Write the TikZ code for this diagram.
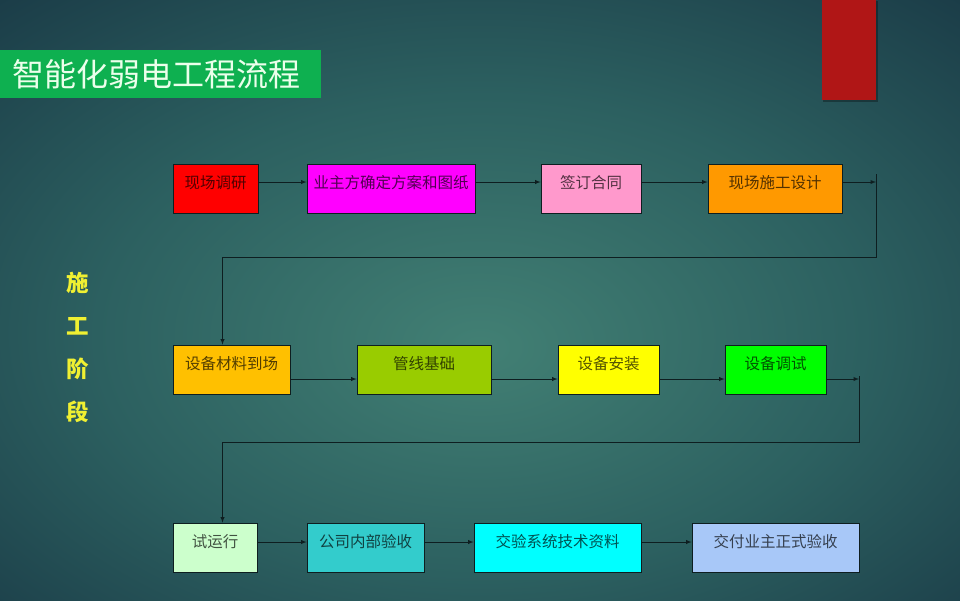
\documentclass[tikz,border=0pt]{standalone}
\usepackage{fontspec}
\setmainfont{Noto Sans CJK SC}
\usepackage{tikz}
\usetikzlibrary{arrows,positioning}

\definecolor{bgin}{RGB}{66,128,116}
\definecolor{bgmid}{RGB}{44,96,96}
\definecolor{bgout}{RGB}{20,46,62}
\definecolor{titlegreen}{RGB}{14,176,80}
\definecolor{barred}{RGB}{176,22,22}
\definecolor{sidetext}{RGB}{240,240,50}
\definecolor{wire}{RGB}{14,30,32}
\pgfdeclareradialshading{slidebg}{\pgfpoint{0bp}{-4bp}}{color(0bp)=(bgin); color(20bp)=(bgmid); color(44bp)=(bgout); color(75bp)=(bgout)}

\tikzset{
	stepbox/.style={draw=wire, line width=0.8pt, inner sep=0pt, minimum height=49pt,
		text height=11pt, text depth=11pt, text opacity=0.68,
		font=\fontsize{15.5}{18}\selectfont},
	wireline/.style={draw=wire, line width=0.9pt},
}

\begin{document}
\begin{tikzpicture}[x=1pt, y=-1pt]
		\useasboundingbox (0,0) rectangle (960,600);
		\fill [shading=slidebg] (0,0) rectangle (960,600);
		
		% title and bar
		\node [fill=titlegreen, anchor=north west, text width=297pt, inner xsep=12pt, minimum height=48pt, align=left, text=green!8!white, font=\fontsize{32}{34}\selectfont] (title) at (0,50) {智能化弱电工程流程};
		\fill [black, opacity=0.3] (823,1) rectangle (878,102);
		\fill [barred] (822,0) rectangle (876,100);
		
		\node [text=sidetext, align=center, font=\fontsize{22.5}{43}\selectfont\bfseries] (stage) at (78,347) {施\\工\\阶\\段};
		
		% row 1
		\node [stepbox, fill={rgb,255:red,255;green,0;blue,0}, minimum width=85pt] (survey) at (215.5,188.5) {现场调研};
		\node [stepbox, fill={rgb,255:red,255;green,0;blue,255}, minimum width=168pt] (plan) at (391,188.5) {业主方确定方案和图纸};
		\node [stepbox, fill={rgb,255:red,255;green,153;blue,204}, minimum width=100pt] (contract) at (591,188.5) {签订合同};
		\node [stepbox, fill={rgb,255:red,255;green,153;blue,0}, minimum width=134pt] (design) at (775,188.5) {现场施工设计};
		
		% row 2
		\node [stepbox, fill={rgb,255:red,255;green,192;blue,0}, minimum width=117pt] (arrive) at (231.5,369.5) {设备材料到场};
		\node [stepbox, fill={rgb,255:red,153;green,204;blue,0}, minimum width=134pt] (pipes) at (424,369.5) {管线基础};
		\node [stepbox, fill={rgb,255:red,255;green,255;blue,0}, minimum width=101pt] (install) at (608.5,369.5) {设备安装};
		\node [stepbox, fill={rgb,255:red,0;green,255;blue,0}, minimum width=101pt] (debug) at (775.5,369.5) {设备调试};
		
		% row 3
		\node [stepbox, fill={rgb,255:red,204;green,255;blue,204}, minimum width=84pt] (trial) at (215,547.5) {试运行};
		\node [stepbox, fill={rgb,255:red,51;green,204;blue,204}, minimum width=117pt] (inner) at (365.5,547.5) {公司内部验收};
		\node [stepbox, fill={rgb,255:red,0;green,255;blue,255}, minimum width=167pt] (docs) at (557.5,547.5) {交验系统技术资料};
		\node [stepbox, fill={rgb,255:red,168;green,200;blue,248}, minimum width=167pt] (handover) at (775.5,547.5) {交付业主正式验收};
		
		\coordinate (turn1) at (876,182);
		\coordinate (turn1a) at (876,174);
		\coordinate (turn1b) at (876,257);
		\coordinate (turn2) at (859,379);
		\coordinate (turn2a) at (859,376);
		\coordinate (turn2b) at (859,442);
		
		\draw [wireline, -latex] ([yshift=6.5pt]survey.east) to ([yshift=6.5pt]plan.west);
		\draw [wireline, -latex] ([yshift=6.5pt]plan.east) to ([yshift=6.5pt]contract.west);
		\draw [wireline, -latex] ([yshift=6.5pt]contract.east) to ([yshift=6.5pt]design.west);
		\draw [wireline, -latex] ([yshift=6.5pt]design.east) to (turn1);
		\draw [wireline, -latex] (turn1a) -- (turn1b) -| ([xshift=-9pt]arrive.north);
		
		\draw [wireline, -latex] ([yshift=-9.5pt]arrive.east) to ([yshift=-9.5pt]pipes.west);
		\draw [wireline, -latex] ([yshift=-9.5pt]pipes.east) to ([yshift=-9.5pt]install.west);
		\draw [wireline, -latex] ([yshift=-9.5pt]install.east) to ([yshift=-9.5pt]debug.west);
		\draw [wireline, -latex] ([yshift=-9.5pt]debug.east) to (turn2);
		\draw [wireline, -latex] (turn2a) -- (turn2b) -| ([xshift=7.5pt]trial.north);
		
		\draw [wireline, -latex] ([yshift=5.5pt]trial.east) to ([yshift=5.5pt]inner.west);
		\draw [wireline, -latex] ([yshift=5.5pt]inner.east) to ([yshift=5.5pt]docs.west);
		\draw [wireline, -latex] ([yshift=5.5pt]docs.east) to ([yshift=5.5pt]handover.west);
		\end{tikzpicture}
\end{document}
